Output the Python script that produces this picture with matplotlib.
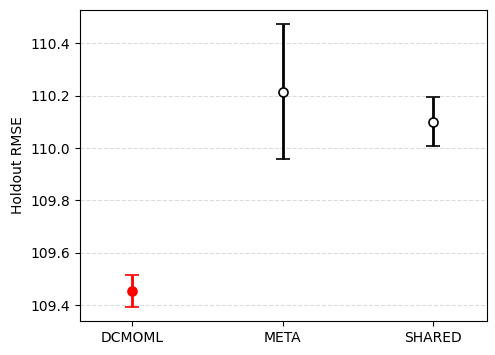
import matplotlib
matplotlib.use("Agg")
import matplotlib.pyplot as plt

methods = ["DCMOML", "META", "SHARED"]
means = [109.456, 110.215, 110.101]
lower = [109.394, 109.957, 110.006]
upper = [109.517, 110.473, 110.196]
colors = ["red", "black", "black"]
face = ["red", "white", "white"]

fig, ax = plt.subplots(figsize=(4.95, 3.55), dpi=100)
fig.subplots_adjust(left=0.162, right=0.984, top=0.972, bottom=0.096)

for i, m in enumerate(methods):
    err = [[means[i] - lower[i]], [upper[i] - means[i]]]
    ax.errorbar([i], [means[i]], yerr=err, fmt="o", color=colors[i],
                ecolor=colors[i], elinewidth=2, capsize=5, capthick=1.5,
                markersize=6.5, markerfacecolor=face[i],
                markeredgecolor=colors[i], markeredgewidth=1.2, zorder=3)

ax.set_xticks(range(len(methods)))
ax.set_xticklabels(methods)
ax.set_xlim(-0.345, 2.36)
ax.set_ylabel("Holdout RMSE")
ax.yaxis.grid(True, linestyle="--", color="#cccccc", alpha=0.7, linewidth=0.8)
ax.set_axisbelow(True)

fig.savefig("out.png", dpi=100)
